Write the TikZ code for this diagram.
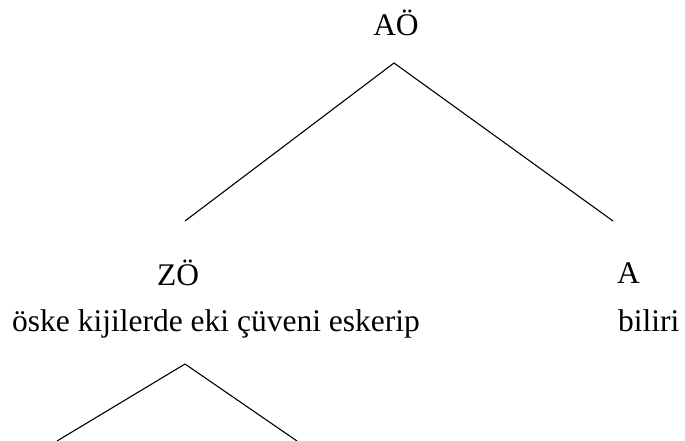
\documentclass[tikz,border=0pt]{standalone}
\usepackage{fontspec}
\setmainfont{Liberation Serif}
\begin{document}
\begin{tikzpicture}[x=1pt,y=-1pt,
  lbl/.style={inner sep=0pt,anchor=base,font=\fontsize{31.5}{38}\selectfont},
  branch/.style={line width=1.1pt}]
\useasboundingbox (0,0) rectangle (685,441);
\clip (0,0) rectangle (685,441);
\node[lbl] (ao) at (396,36) {AÖ};
\coordinate (top) at (394,63);
\coordinate (l1) at (185,221);
\coordinate (r1) at (613,221);
\draw[branch] (l1) -- (top) -- (r1);
\node[lbl] (zo) at (178,285) {ZÖ};
\node[lbl,anchor=base west] (a) at (617,283) {A};
\node[lbl,anchor=base west] (txt) at (12,331) {öske kijilerde eki çüveni eskerip};
\node[lbl,anchor=base west] (bil) at (618,331) {biliri};
\coordinate (top2) at (185,364);
\coordinate (l2) at (57,441);
\coordinate (r2) at (297,441);
\draw[branch] (l2) -- (top2) -- (r2);
\end{tikzpicture}
\end{document}
